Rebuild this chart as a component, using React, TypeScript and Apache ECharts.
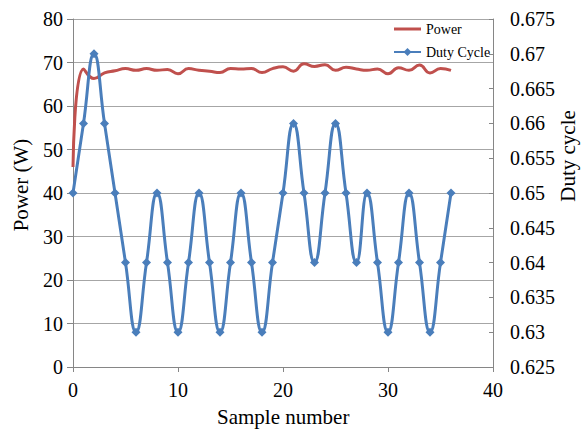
import React, { useEffect, useRef } from "react";
import * as echarts from "echarts";

const samples = Array.from({ length: 37 }, (_, i) => i);
const powerValues = [46, 68.5, 66.3, 67.6, 68.1, 68.6, 68.2, 68.6, 68.2, 68.4, 67.4, 68.6, 68.2, 68.0, 67.7, 68.6, 68.5, 68.6, 67.7, 68.6, 69.0, 68.0, 69.7, 69.1, 69.5, 68.2, 68.9, 68.5, 68.2, 68.5, 67.4, 68.8, 68.2, 69.4, 67.6, 68.6, 68.2];
const dutyValues = [0.65, 0.66, 0.67, 0.66, 0.65, 0.64, 0.63, 0.64, 0.65, 0.64, 0.63, 0.64, 0.65, 0.64, 0.63, 0.64, 0.65, 0.64, 0.63, 0.64, 0.65, 0.66, 0.65, 0.64, 0.65, 0.66, 0.65, 0.64, 0.65, 0.64, 0.63, 0.64, 0.65, 0.64, 0.63, 0.64, 0.65];
const seriesNames = ["Power", "Duty Cycle"];
const xTitle = "Sample number";
const yLeftTitle = "Power (W)";
const yRightTitle = "Duty cycle";

const FONT = "Liberation Serif, Times New Roman, serif";
const AXIS_COLOR = "#868686";
const GRID_COLOR = "#A6A6A6";

export default function App() {
  const ref = useRef<HTMLDivElement>(null);
  useEffect(() => {
    if (!ref.current) return;
    const chart = echarts.init(ref.current, null, { renderer: "svg" });
    const labelStyle = { color: "#000", fontFamily: FONT, fontSize: 20 };
    const axisLine = { show: true, lineStyle: { color: AXIS_COLOR, width: 1 } };
    chart.setOption({
      animation: false,
      backgroundColor: "#fff",
      textStyle: { fontFamily: FONT },
      grid: { left: 73, right: 88, top: 19, bottom: 63, containLabel: false },
      legend: {
        orient: "vertical",
        left: 388,
        top: 17,
        itemWidth: 27,
        itemHeight: 10,
        itemGap: 9,
        textStyle: { fontFamily: FONT, fontSize: 14, color: "#000", lineHeight: 14 },
        data: [
          { name: seriesNames[0], icon: "path://M0,0L27,0L27,3L0,3Z" },
          { name: seriesNames[1] },
        ],
      },
      xAxis: {
        type: "value",
        min: 0,
        max: 40,
        interval: 10,
        splitLine: { show: false },
        axisLine,
        axisTick: { show: true, length: 5, lineStyle: { color: AXIS_COLOR } },
        axisLabel: { ...labelStyle, margin: 13 },
      },
      yAxis: [
        {
          type: "value",
          min: 0,
          max: 80,
          interval: 10,
          position: "left",
          splitLine: { show: true, lineStyle: { color: GRID_COLOR, width: 1 } },
          axisLine,
          axisTick: { show: true, length: 6, lineStyle: { color: AXIS_COLOR } },
          axisLabel: { ...labelStyle, margin: 10 },
        },
        {
          type: "value",
          min: 0.625,
          max: 0.675,
          interval: 0.005,
          position: "right",
          splitLine: { show: false },
          axisLine,
          axisTick: { show: true, inside: true, length: 4, lineStyle: { color: AXIS_COLOR } },
          axisLabel: {
            ...labelStyle,
            margin: 17,
            formatter: (v: number) => String(Math.round(v * 1000) / 1000),
          },
        },
      ],
      graphic: [
        {
          type: "text",
          left: 217,
          top: 406,
          style: { text: xTitle, fontFamily: FONT, fontSize: 21, fill: "#000" },
        },
        {
          type: "text",
          x: 21,
          y: 185,
          rotation: Math.PI / 2,
          style: {
            text: yLeftTitle,
            fontFamily: FONT,
            fontSize: 21,
            fill: "#000",
            align: "center",
            verticalAlign: "middle",
          },
        },
        {
          type: "text",
          x: 568,
          y: 156,
          rotation: Math.PI / 2,
          style: {
            text: yRightTitle,
            fontFamily: FONT,
            fontSize: 21,
            fill: "#000",
            align: "center",
            verticalAlign: "middle",
          },
        },
      ],
      series: [
        {
          name: seriesNames[0],
          type: "line",
          yAxisIndex: 0,
          smooth: true,
          symbol: "none",
          data: samples.map((s, i) => [s, powerValues[i]]),
          lineStyle: { color: "#C0504D", width: 3 },
          itemStyle: { color: "#C0504D" },
          z: 2,
        },
        {
          name: seriesNames[1],
          type: "line",
          yAxisIndex: 1,
          smooth: true,
          symbol: "diamond",
          symbolSize: 9,
          showSymbol: true,
          data: samples.map((s, i) => [s, dutyValues[i]]),
          lineStyle: { color: "#4A7EBB", width: 3 },
          itemStyle: { color: "#4A7EBB" },
          z: 3,
        },
      ],
    });
    return () => chart.dispose();
  }, []);
  return (
    <div
      ref={ref}
      style={{ position: "fixed", left: 0, top: 0, width: 581, height: 430 }}
    />
  );
}
